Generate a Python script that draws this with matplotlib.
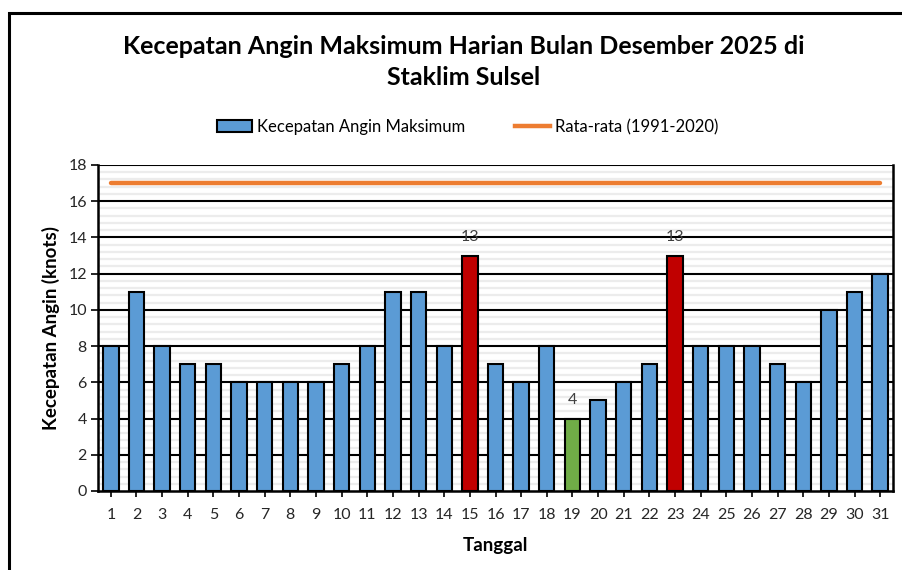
import matplotlib
matplotlib.use("Agg")
import matplotlib.pyplot as plt
from matplotlib.patches import Rectangle
from matplotlib.lines import Line2D
from matplotlib.patches import Patch
import numpy as np

days = list(range(1, 32))
wind_max = [8, 11, 8, 7, 7, 6, 6, 6, 6, 7, 8, 11, 11, 8, 13, 7, 6, 8, 4, 5, 6, 7, 13, 8, 8, 8, 7, 6, 10, 11, 12]
normal_avg = [17] * 31
highlight_max_days = [15, 23]
highlight_min_days = [19]

BLUE = "#5B9BD5"
RED = "#C00000"
GREEN = "#70AD47"
ORANGE = "#ED7D31"

plt.rcParams['font.family'] = ['Lato', 'DejaVu Sans']

fig = plt.figure(figsize=(9.02, 5.70), dpi=100)
ax = fig.add_axes([98/902, 1-491/570, (893-98)/902, (491-165)/570])

colors = []
for d in days:
    if d in highlight_max_days:
        colors.append(RED)
    elif d in highlight_min_days:
        colors.append(GREEN)
    else:
        colors.append(BLUE)

ax.set_xlim(0.5, 31.5)
ax.set_ylim(0, 18)

# minor gridlines
for y in np.arange(0, 18.01, 0.4):
    if abs(y - round(y / 2) * 2) > 1e-6:
        ax.axhline(y, color="#ececec", lw=1.6, zorder=0)
for y in range(2, 19, 2):
    ax.axhline(y, color="black", lw=1.5, zorder=1)

bars = ax.bar(days, wind_max, width=0.6, color=colors, edgecolor="black", linewidth=1.5, zorder=3)
ax.plot(days, normal_avg, color=ORANGE, lw=3.2, solid_capstyle="round", zorder=4)

for d, v in zip(days, wind_max):
    if d in highlight_max_days or d in highlight_min_days:
        ax.annotate(str(v), (d, v), xytext=(0, 8), textcoords="offset points",
                    ha="center", va="bottom", fontsize=11.5, color="#404040")

ax.set_xticks(days)
ax.set_xticklabels([str(d) for d in days], fontsize=11.5, color="#262626")
ax.set_yticks(range(0, 19, 2))
ax.set_yticklabels([str(v) for v in range(0, 19, 2)], fontsize=11.5, color="#262626")
ax.tick_params(axis="x", length=4, width=1.2, direction="out", pad=8)
ax.tick_params(axis="y", length=5, width=1.2, direction="out", pad=3)
for s in ["left", "bottom", "right"]:
    ax.spines[s].set_linewidth(1.8)
    ax.spines[s].set_color("black")
ax.spines["top"].set_visible(False)

ax.set_xlabel("Tanggal", fontsize=13.5, fontweight="bold", labelpad=11)
ax.set_ylabel("Kecepatan Angin (knots)", fontsize=13.5, fontweight="bold", labelpad=6)

fig.text(464/902, 1-62/570, "Kecepatan Angin Maksimum Harian Bulan Desember 2025 di\nStaklim Sulsel",
         ha="center", va="center", fontsize=18, fontweight="bold", linespacing=1.4)

handles = [Patch(facecolor=BLUE, edgecolor="black", linewidth=1.5),
           Line2D([0], [0], color=ORANGE, lw=3.2)]
labels = ["Kecepatan Angin Maksimum", "Rata-rata (1991-2020)"]
fig.legend(handles, labels, loc="center", bbox_to_anchor=(468/902, 1-127/570), ncol=2,
           frameon=False, fontsize=12, handlelength=2.1, handletextpad=0.3, columnspacing=3.0)

fig.add_artist(Rectangle((9/902, -0.05), 1.2, 1-13/570 + 0.05, transform=fig.transFigure,
                         fill=False, edgecolor="black", linewidth=2.2))

fig.savefig("out.png", dpi=100)
